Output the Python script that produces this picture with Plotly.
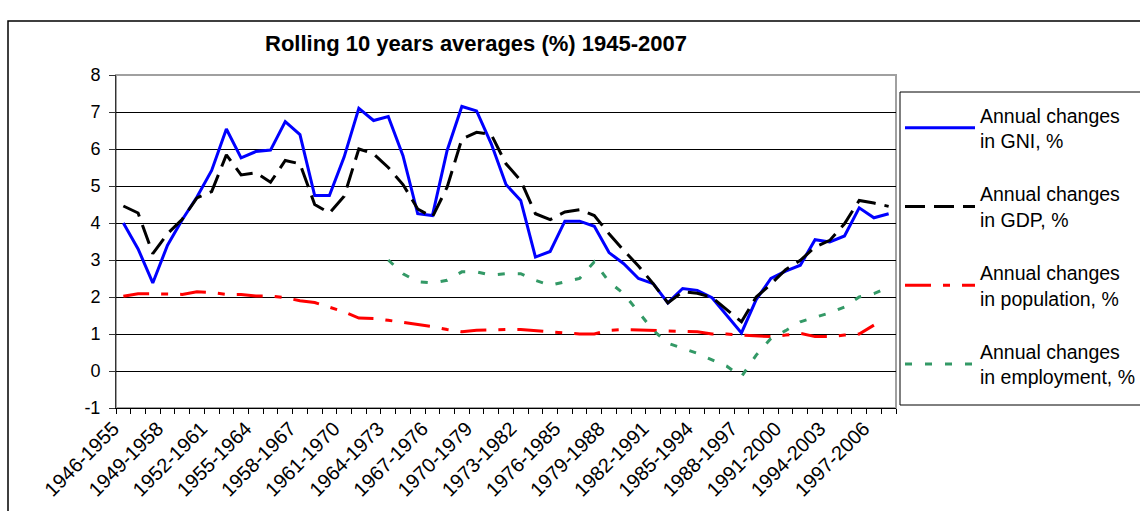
import plotly.graph_objects as go

categories = [
    "1946-1955", "1947-1956", "1948-1957", "1949-1958", "1950-1959", "1951-1960",
    "1952-1961", "1953-1962", "1954-1963", "1955-1964", "1956-1965", "1957-1966",
    "1958-1967", "1959-1968", "1960-1969", "1961-1970", "1962-1971", "1963-1972",
    "1964-1973", "1965-1974", "1966-1975", "1967-1976", "1968-1977", "1969-1978",
    "1970-1979", "1971-1980", "1972-1981", "1973-1982", "1974-1983", "1975-1984",
    "1976-1985", "1977-1986", "1978-1987", "1979-1988", "1980-1989", "1981-1990",
    "1982-1991", "1983-1992", "1984-1993", "1985-1994", "1986-1995", "1987-1996",
    "1988-1997", "1989-1998", "1990-1999", "1991-2000", "1992-2001", "1993-2002",
    "1994-2003", "1995-2004", "1996-2005", "1997-2006", "1998-2007",
]

gni = [4.0, 3.3, 2.38, 3.4, 4.09, 4.7, 5.42, 6.54, 5.76, 5.93, 5.97, 6.74, 6.39,
       4.74, 4.74, 5.78, 7.1, 6.77, 6.88, 5.82, 4.25, 4.2, 5.96, 7.15, 7.03, 6.14,
       5.04, 4.61, 3.08, 3.23, 4.05, 4.05, 3.91, 3.2, 2.9, 2.5, 2.36, 1.84, 2.23,
       2.18, 1.98, 1.51, 1.03, 1.93, 2.5, 2.7, 2.86, 3.55, 3.49, 3.65, 4.41, 4.14, 4.25]

gdp = [4.46, 4.27, 3.17, 3.71, 4.1, 4.68, 4.85, 5.84, 5.3, 5.36, 5.1, 5.69, 5.6,
       4.5, 4.27, 4.72, 6.0, 5.87, 5.5, 5.04, 4.38, 4.16, 4.97, 6.27, 6.45, 6.39,
       5.6, 5.15, 4.25, 4.09, 4.3, 4.36, 4.2, 3.71, 3.26, 2.84, 2.36, 1.84, 2.14,
       2.1, 1.99, 1.66, 1.33, 2.0, 2.35, 2.74, 2.99, 3.35, 3.53, 3.98, 4.61, 4.54, 4.45]

population = [2.02, 2.09, 2.09, 2.07, 2.07, 2.14, 2.12, 2.07, 2.07, 2.03, 2.03, 1.98,
              1.9, 1.85, 1.73, 1.6, 1.43, 1.42, 1.37, 1.32, 1.26, 1.2, 1.12, 1.06,
              1.1, 1.12, 1.12, 1.12, 1.09, 1.06, 1.02, 1.0, 1.0, 1.1, 1.12, 1.11,
              1.1, 1.08, 1.06, 1.06, 1.0, 1.0, 0.97, 0.94, 0.93, 0.97, 1.02, 0.93,
              0.93, 0.97, 1.0, 1.24, None]

employment = [None] * 18 + [
    3.0, 2.63, 2.41, 2.38, 2.45, 2.68, 2.68, 2.59, 2.63, 2.63, 2.45, 2.32, 2.41,
    2.5, 2.95, 2.41, 2.09, 1.6, 1.1, 0.75, 0.61, 0.48, 0.3, 0.13, -0.15, 0.43,
    0.88, 1.09, 1.33, 1.46, 1.57, 1.73, 2.0, 2.09, 2.27]

series_names = [
    "Annual changes<br>in GNI, %",
    "Annual changes<br>in GDP, %",
    "Annual changes<br>in population, %",
    "Annual changes<br>in employment, %",
]
series_colors = ["#0000FF", "#000000", "#FF0000", "#339966"]
series_dashes = ["solid", "20px,9px", "26px,12px,7px,12px", "7px,13px"]
title_text = "Rolling 10 years averages (%) 1945-2007"
y_ticks = [-1, 0, 1, 2, 3, 4, 5, 6, 7, 8]
label_step = 3

FONT = "Liberation Sans, Arial, sans-serif"
W, H = 1140, 511
L, R, T, B = 116, 244, 75, 103

idx = list(range(len(categories)))
fig = go.Figure()
for i, (vals, name, col, dash) in enumerate(
        zip([gni, gdp, population, employment], series_names, series_colors, series_dashes)):
    fig.add_trace(go.Scatter(
        x=idx, y=vals, mode="lines", name=name, legendgroup=f"g{i}",
        line=dict(color=col, width=3, dash=dash), connectgaps=False,
    ))

tickvals = idx[::label_step]
ticktext = [categories[i] for i in tickvals]

pw = W - L - R
ph = H - T - B

def px_to_paper_x(px):
    return (px - L) / pw

def px_to_paper_y(py):
    return (H - B - py) / ph

fig.update_layout(
    width=W, height=H,
    margin=dict(l=L, r=R, t=T, b=B, autoexpand=False),
    paper_bgcolor="white", plot_bgcolor="white",
    font=dict(family=FONT, color="black"),
    title=dict(text=f"<b>{title_text}</b>", x=476 / W, xanchor="center",
               y=1 - 43 / H, yanchor="middle", xref="container", yref="container",
               font=dict(size=22, family=FONT, color="black")),
    showlegend=True,
    legend=dict(
        x=900 / W, y=1 - 96 / H, xref="container", yref="container",
        xanchor="left", yanchor="top",
        borderwidth=0, bgcolor="rgba(0,0,0,0)",
        font=dict(size=19.5, family=FONT, color="black"),
        traceorder="grouped", tracegroupgap=25, itemwidth=70,
        maxheight=420,
    ),
    xaxis=dict(
        range=[-0.5, len(categories) - 0.5],
        tickmode="array", tickvals=tickvals, ticktext=ticktext,
        tickangle=-45, ticks="", tickfont=dict(size=20, family=FONT),
        ticklabelshift=-10,
        showgrid=False, zeroline=False, automargin=False,
        showline=True, linecolor="#000000", linewidth=1,
        minor=dict(ticks="outside", tick0=0.5, dtick=1, ticklen=5,
                   tickcolor="#000000", tickwidth=1, showgrid=False),
    ),
    yaxis=dict(
        range=[-1, 8], tickmode="array", tickvals=y_ticks,
        ticktext=[str(v) for v in y_ticks],
        ticks="outside", ticklen=6, tickcolor="#333333",
        tickfont=dict(size=18, family=FONT), ticklabelstandoff=5,
        showgrid=True, gridcolor="#000000", gridwidth=1, automargin=False,
        zeroline=False, showline=True, linecolor="#333333", linewidth=1,
    ),
    shapes=[
        # plot area border
        dict(type="rect", xref="paper", yref="paper", x0=0, x1=1, y0=0, y1=1,
             line=dict(color="#A0A0A0", width=2), layer="below"),
        # outer chart frame
        dict(type="rect", xref="paper", yref="paper",
             x0=px_to_paper_x(8), x1=px_to_paper_x(1150),
             y0=px_to_paper_y(520), y1=px_to_paper_y(21),
             line=dict(color="#000000", width=1.5), layer="below"),
        # legend box
        dict(type="rect", xref="paper", yref="paper",
             x0=px_to_paper_x(900), x1=px_to_paper_x(1150),
             y0=px_to_paper_y(405), y1=px_to_paper_y(92),
             line=dict(color="#000000", width=1), fillcolor="white", layer="below"),
    ],
)

fig.write_html("out.html", config={"displayModeBar": False},
               post_script="document.body.style.margin='0';")
